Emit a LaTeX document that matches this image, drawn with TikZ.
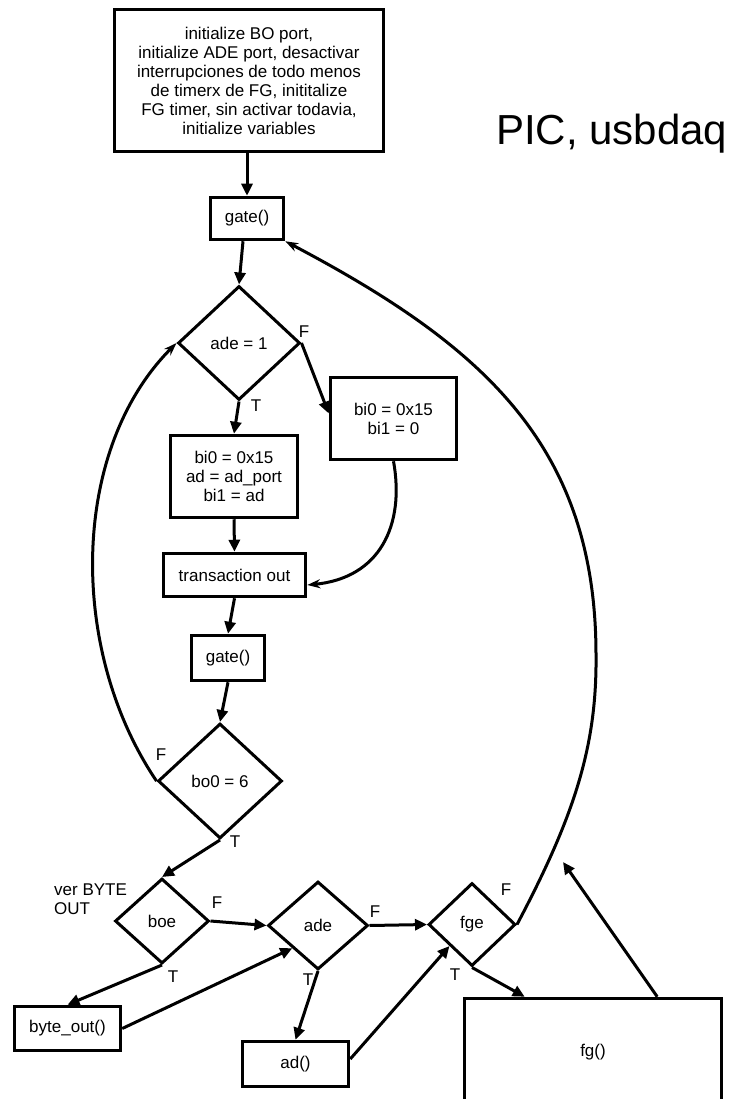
\documentclass[tikz,border=0pt]{standalone}
\usepackage{fontspec}
\setmainfont{Liberation Sans}
\usetikzlibrary{shapes.geometric, arrows.meta, calc}

\begin{document}
\begin{tikzpicture}[x=1pt, y=-1pt,
  every node/.style={font=\fontsize{17}{19}\selectfont},
  box/.style={draw, line width=3.5pt, inner sep=2pt, align=center},
  cond/.style={draw, diamond, line width=3pt, inner sep=0pt},
  flow/.style={line width=3pt, -{Triangle[length=12pt,width=11pt]}},
  curvearrow/.style={line width=3pt, -{Stealth[length=13pt,width=9pt]}},
  tf/.style={inner sep=0pt}]
  \clip (0,0) rectangle (739,1099);
  % title
  \node[inner sep=0pt, anchor=base west, font=\fontsize{42}{46}\selectfont] (title) at (496,145) {PIC, usbdaq};
  % boxes
  \node[box, minimum width=269pt, minimum height=142pt] (init) at (249,80.5)
    {initialize BO port,\\initialize ADE port, desactivar\\interrupciones de todo menos\\de timerx de FG, inititalize\\FG timer, sin activar todavia,\\initialize variables};
  \node[box, minimum width=73pt, minimum height=42pt] (gate1) at (247,218.5) {gate()};
  \node[cond, minimum width=122pt, minimum height=114pt] (c1) at (239,343) {ade = 1};
  \node[box, minimum width=126pt, minimum height=82pt] (rbox) at (393.5,418.5) {bi0 = 0x15\\bi1 = 0};
  \node[box, minimum width=127pt, minimum height=82pt] (lbox) at (234,476.5) {bi0 = 0x15\\ad = ad\_port\\bi1 = ad};
  \node[box, minimum width=142pt, minimum height=43pt] (trans) at (234.5,575) {transaction out};
  \node[box, minimum width=73pt, minimum height=45pt] (gate2) at (228,658) {gate()};
  \node[cond, minimum width=124pt, minimum height=115pt] (c2) at (220,781) {bo0 = 6};
  \node[cond, minimum width=94pt, minimum height=85pt] (boe) at (162,921) {boe};
  \node[cond, minimum width=100pt, minimum height=88pt] (ade2) at (318,925.5) {ade};
  \node[cond, minimum width=87pt, minimum height=83pt] (fge) at (472,924.5) {fge};
  \node[box, minimum width=106pt, minimum height=44pt] (bout) at (67.5,1028.5) {byte\_out()};
  \node[box, minimum width=106pt, minimum height=45pt] (adf) at (295.5,1064) {ad()};
  \node[box, minimum width=257pt, minimum height=107pt] (fg) at (593,1052) {fg()};
  \node[tf, anchor=west, align=left] (note) at (54,899.5) {ver BYTE\\OUT};
  % T / F labels
  \node[tf] (c1f) at (304,332) {F};
  \node[tf] (c1t) at (256,406) {T};
  \node[tf] (c2f) at (161,755) {F};
  \node[tf] (c2t) at (235,842) {T};
  \node[tf] (boef) at (217,903) {F};
  \node[tf] (boet) at (173,977) {T};
  \node[tf] (ade2f) at (375,912) {F};
  \node[tf] (ade2t) at (308,980) {T};
  \node[tf] (fgef) at (506,890) {F};
  \node[tf] (fget) at (455,975) {T};
  \coordinate (fgtip) at (563,862);
  % connectors
  \draw[flow] (init.south -| gate1.north) -- (gate1.north);
  \draw[flow] ([xshift=-4pt]gate1.south) -- (c1.north);
  \draw[flow] (c1.south) -- (lbox.north);
  \draw[flow] (c1.east) -- ([yshift=5pt]rbox.west);
  \draw[curvearrow] (rbox.south) .. controls (405,525) and (380,578) .. ([yshift=-10pt]trans.east);
  \draw[flow] (lbox.south) -- (trans.north);
  \draw[flow] (trans.south) -- (gate2.north);
  \draw[flow] (gate2.south) -- (c2.north);
  \draw[curvearrow] (c2.west) .. controls (68,650) and (70,450) .. (c1.west);
  \draw[flow] (c2.south) -- (boe.north);
  \draw[flow] (boe.east) -- (ade2.west);
  \draw[flow] (boe.south) -- (bout.north);
  \draw[flow] (bout.east) -- (ade2.south west);
  \draw[flow] (ade2.south) -- (adf.north);
  \draw[flow] (ade2.east) -- (fge.west);
  \draw[flow] ([yshift=5pt]adf.east) -- (fge.south west);
  \draw[flow] (fge.south) -- ([xshift=62pt]fg.north west);
  \draw[curvearrow] (fge.east) .. controls (575,815) and (597,745) .. (596,655)
    .. controls (596,445) and (482,345) .. (gate1.south east);
  \draw[flow] ([xshift=-66pt]fg.north east) -- (fgtip);
\end{tikzpicture}
\end{document}
